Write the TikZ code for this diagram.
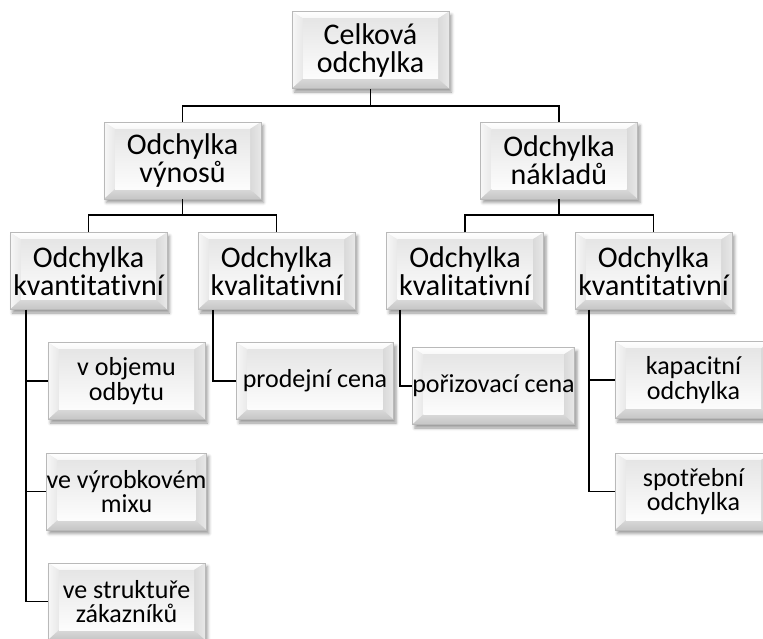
\documentclass[tikz,border=0pt]{standalone}
\usepackage{fontspec}
\setmainfont{Carlito}[Ligatures=NoCommon]
\usetikzlibrary{shadows.blur}

\tikzset{
  % bevelled grey box with soft drop shadow
  bevelbox/.style={
    rectangle, minimum width=157pt, minimum height=77pt, inner sep=0pt,
    align=center, draw=gray!55, line width=0.5pt, fill=gray!15,
    blur shadow={shadow xshift=2.5pt, shadow yshift=-3.5pt,
                 shadow blur radius=3pt, shadow opacity=40},
    path picture={
      \path (path picture bounding box.north west) coordinate (pnw)
            (path picture bounding box.north east) coordinate (pne)
            (path picture bounding box.south west) coordinate (psw)
            (path picture bounding box.south east) coordinate (pse);
      % top facet
      \shade[top color=white, bottom color=gray!6]
        (pnw) -- (pne) -- ([xshift=-11pt,yshift=-7pt]pne)
        -- ([xshift=11pt,yshift=-7pt]pnw) -- cycle;
      % left facet
      \shade[left color=gray!6, right color=gray!18]
        (pnw) -- ([xshift=11pt,yshift=-7pt]pnw)
        -- ([xshift=11pt,yshift=10pt]psw) -- (psw) -- cycle;
      % right facet
      \shade[left color=gray!30, right color=gray!18]
        (pne) -- (pse) -- ([xshift=-11pt,yshift=10pt]pse)
        -- ([xshift=-11pt,yshift=-7pt]pne) -- cycle;
      % bottom facet
      \shade[top color=gray!30, bottom color=gray!45]
        (psw) -- (pse) -- ([xshift=-11pt,yshift=10pt]pse)
        -- ([xshift=11pt,yshift=10pt]psw) -- cycle;
      % front face
      \shade[top color=gray!20, bottom color=gray!2]
        ([xshift=11pt,yshift=-7pt]pnw) rectangle ([xshift=-11pt,yshift=10pt]pse);
    }},
  bigtext/.style={font=\fontsize{30}{28}\selectfont},
  smalltext/.style={font=\fontsize{26}{24.5}\selectfont},
  conn/.style={draw=black, line width=1.8pt},
}

\begin{document}
\begin{tikzpicture}[x=1pt, y=-1pt]
  \useasboundingbox (0,0) rectangle (763,638);
  \clip (0,0) rectangle (763,638);

  % level 1
  \node[bevelbox, bigtext] (top) at (370.5,50) {Celková\\odchylka};

  % level 2
  \node[bevelbox, bigtext] (vyn) at (182.5,160.5) {Odchylka\\výnosů};
  \node[bevelbox, bigtext] (nak) at (559,160.5) {Odchylka\\nákladů};

  % level 3
  \node[bevelbox, bigtext] (kvn1) at (88.5,271) {Odchylka\\kvantitativní};
  \node[bevelbox, bigtext] (kvl1) at (276.5,271) {Odchylka\\kvalitativní};
  \node[bevelbox, bigtext] (kvl2) at (465,271) {Odchylka\\kvalitativní};
  \node[bevelbox, bigtext] (kvn2) at (653.5,271) {Odchylka\\kvantitativní};

  % level 4
  \node[bevelbox, smalltext] (objem) at (126.5,381) {v objemu\\odbytu};
  \node[bevelbox, smalltext] (mix) at (126.5,491.5) {ve výrobkovém\\mixu};
  \node[bevelbox, smalltext] (zak) at (126.5,601.5) {ve struktuře\\zákazníků};
  \node[bevelbox, smalltext] (prod) at (315,381) {prodejní cena};
  \node[bevelbox, smalltext] (por) at (493.5,386) {pořizovací cena};
  \node[bevelbox, smalltext] (kap) at (693.5,380) {kapacitní\\odchylka};
  \node[bevelbox, smalltext] (spot) at (693.5,491.5) {spotřební\\odchylka};

  % connectors
  \draw[conn] (top.south) -- ++(0,17);
  \draw[conn] (vyn.north) |- ([yshift=-17pt]top.south) -| (nak.north);

  \draw[conn] (vyn.south) -- ++(0,16);
  \draw[conn] (kvn1.north) |- ([yshift=-16pt]vyn.south) -| (kvl1.north);
  \draw[conn] (nak.south) -- ++(0,16);
  \draw[conn] (kvl2.north) |- ([yshift=-16pt]nak.south) -| (kvn2.north);

  \draw[conn] ([xshift=16pt]kvn1.south west) |- (objem.west);
  \draw[conn] ([xshift=16pt]kvn1.south west) |- (mix.west);
  \draw[conn] ([xshift=16pt]kvn1.south west) |- (zak.west);
  \draw[conn] ([xshift=15pt]kvl1.south west) |- (prod.west);
  \draw[conn] ([xshift=14pt]kvl2.south west) |- (por.west);
  \draw[conn] ([xshift=14pt]kvn2.south west) |- (kap.west);
  \draw[conn] ([xshift=14pt]kvn2.south west) |- (spot.west);
\end{tikzpicture}
\end{document}
